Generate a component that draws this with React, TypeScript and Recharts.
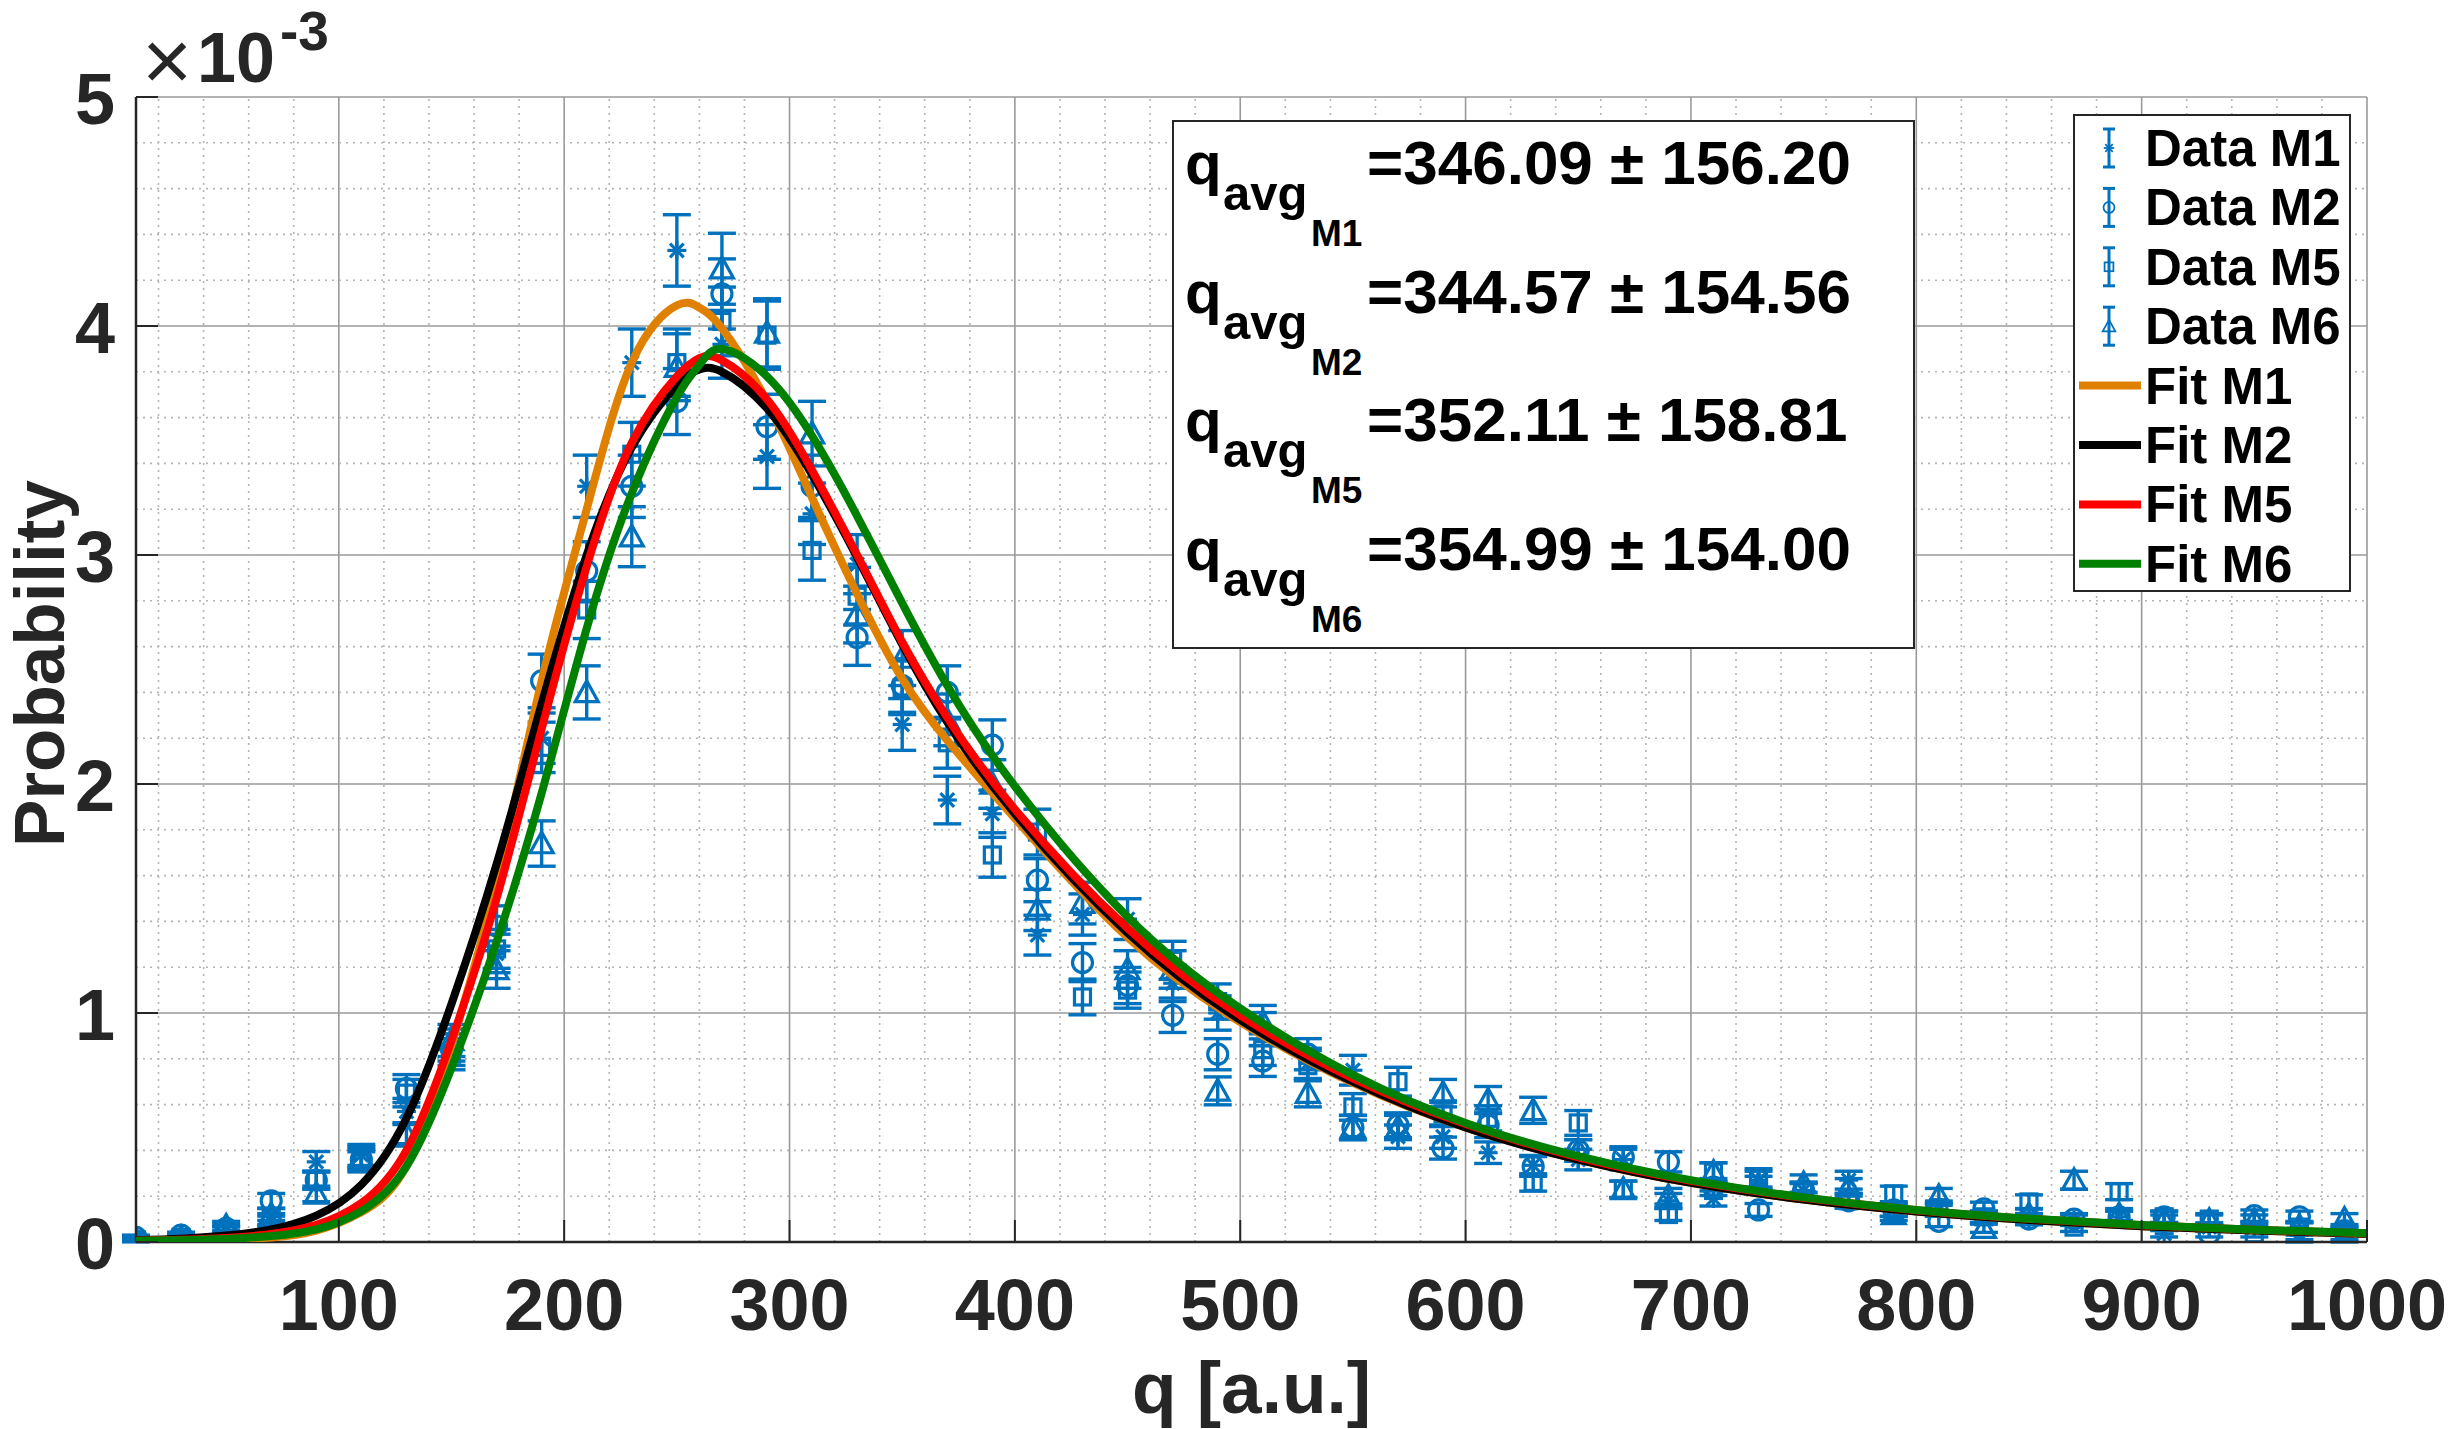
import React from 'react';
import {
  ComposedChart,
  XAxis,
  YAxis,
  CartesianGrid,
  Line,
  Scatter,
  ErrorBar,
  ReferenceLine,
  Legend,
} from 'recharts';

const CHART_W = 2450;
const CHART_H = 1429;
const FONT = '"Liberation Sans", Arial, Helvetica, sans-serif';
const INK = '#262626';
const BLUE = '#0072BD';
const ORANGE = '#E08000';
const BLACK = '#000000';
const RED = '#FF0000';
const GREEN = '#008000';

// ---------- data (probability in units of 1e-3) ----------
const qPoints = [10, 30, 50, 70, 90, 110, 130, 150, 170, 190, 210, 230, 250, 270, 290, 310, 330, 350, 370, 390, 410, 430, 450, 470, 490, 510, 530, 550, 570, 590, 610, 630, 650, 670, 690, 710, 730, 750, 770, 790, 810, 830, 850, 870, 890, 910, 930, 950, 970, 990];

const m1Values = [0.01, 0.02, 0.05, 0.09, 0.35, 0.38, 0.57, 0.86, 1.26, 2.2, 3.3, 3.84, 4.33, 3.92, 3.43, 3.18, 2.96, 2.26, 1.93, 1.87, 1.34, 1.43, 1.41, 1.13, 1.0, 0.93, 0.78, 0.75, 0.46, 0.46, 0.39, 0.335, 0.36, 0.36, 0.18, 0.19, 0.27, 0.225, 0.27, 0.14, 0.14, 0.11, 0.1, 0.095, 0.11, 0.036, 0.065, 0.065, 0.005, 0.005];
const m1Errors = [0.008, 0.01, 0.017, 0.023, 0.045, 0.046, 0.057, 0.07, 0.084, 0.11, 0.136, 0.147, 0.156, 0.148, 0.139, 0.134, 0.129, 0.113, 0.104, 0.103, 0.087, 0.09, 0.089, 0.08, 0.075, 0.072, 0.066, 0.065, 0.051, 0.051, 0.047, 0.043, 0.045, 0.045, 0.032, 0.033, 0.039, 0.036, 0.039, 0.028, 0.028, 0.025, 0.024, 0.023, 0.025, 0.014, 0.019, 0.019, 0.005, 0.005];

const m2Values = [0.02, 0.03, 0.06, 0.18, 0.27, 0.36, 0.67, 0.84, 1.38, 2.45, 2.93, 3.3, 3.67, 4.14, 3.56, 3.3, 2.64, 2.43, 2.4, 2.17, 1.58, 1.22, 1.12, 0.99, 0.82, 0.79, 0.82, 0.5, 0.51, 0.41, 0.51, 0.33, 0.4, 0.37, 0.35, 0.24, 0.14, 0.225, 0.18, 0.14, 0.09, 0.145, 0.1, 0.1, 0.11, 0.11, 0.036, 0.115, 0.11, 0.05];
const m2Errors = [0.01, 0.013, 0.018, 0.032, 0.039, 0.045, 0.061, 0.069, 0.088, 0.117, 0.128, 0.136, 0.144, 0.153, 0.142, 0.136, 0.122, 0.117, 0.116, 0.11, 0.094, 0.083, 0.079, 0.075, 0.068, 0.067, 0.068, 0.053, 0.054, 0.048, 0.054, 0.043, 0.047, 0.046, 0.044, 0.037, 0.028, 0.036, 0.032, 0.028, 0.023, 0.029, 0.024, 0.024, 0.025, 0.025, 0.014, 0.025, 0.025, 0.017];

const m5Values = [0.01, 0.02, 0.05, 0.1, 0.27, 0.35, 0.65, 0.82, 1.28, 2.16, 2.76, 3.44, 3.84, 4.02, 3.96, 3.02, 2.82, 2.42, 2.18, 1.69, 1.79, 1.07, 1.1, 1.23, 1.05, 0.84, 0.77, 0.59, 0.7, 0.56, 0.54, 0.26, 0.52, 0.23, 0.12, 0.305, 0.28, 0.22, 0.18, 0.21, 0.15, 0.11, 0.175, 0.065, 0.22, 0.11, 0.1, 0.036, 0.065, 0.045];
const m5Errors = [0.008, 0.01, 0.017, 0.024, 0.039, 0.044, 0.06, 0.068, 0.085, 0.11, 0.125, 0.139, 0.147, 0.15, 0.149, 0.13, 0.126, 0.117, 0.111, 0.097, 0.1, 0.078, 0.079, 0.083, 0.077, 0.069, 0.066, 0.058, 0.063, 0.056, 0.055, 0.038, 0.054, 0.036, 0.026, 0.041, 0.04, 0.035, 0.032, 0.034, 0.029, 0.025, 0.031, 0.019, 0.035, 0.025, 0.024, 0.014, 0.019, 0.016];

const m6Values = [0.01, 0.02, 0.07, 0.12, 0.21, 0.37, 0.47, 0.88, 1.19, 1.74, 2.4, 3.08, 3.82, 4.25, 3.97, 3.53, 2.74, 2.55, 2.28, 2.0, 1.45, 1.48, 1.19, 1.19, 0.66, 0.96, 0.65, 0.5, 0.5, 0.65, 0.62, 0.575, 0.4, 0.23, 0.2, 0.305, 0.25, 0.255, 0.24, 0.12, 0.2, 0.06, 0.12, 0.27, 0.12, 0.095, 0.095, 0.095, 0.07, 0.1];
const m6Errors = [0.008, 0.01, 0.02, 0.026, 0.034, 0.046, 0.051, 0.07, 0.082, 0.099, 0.116, 0.131, 0.146, 0.155, 0.149, 0.141, 0.124, 0.12, 0.113, 0.106, 0.09, 0.091, 0.082, 0.082, 0.061, 0.073, 0.06, 0.053, 0.053, 0.06, 0.059, 0.057, 0.047, 0.036, 0.034, 0.041, 0.037, 0.038, 0.037, 0.026, 0.034, 0.018, 0.026, 0.039, 0.026, 0.023, 0.023, 0.023, 0.02, 0.024];

const fitQ = [10, 30, 50, 70, 90, 110, 130, 150, 170, 190, 210, 230, 250, 260, 270, 290, 310, 330, 350, 370, 400, 450, 500, 550, 600, 650, 700, 750, 800, 850, 900, 950, 1000];
const fitM1Values = [0.004, 0.007, 0.011, 0.02, 0.05, 0.13, 0.33, 0.86, 1.58, 2.45, 3.2, 3.84, 4.09, 4.08, 3.99, 3.67, 3.25, 2.83, 2.46, 2.19, 1.85, 1.33, 0.96, 0.695, 0.5, 0.36, 0.258, 0.185, 0.133, 0.096, 0.069, 0.05, 0.036];
const fitM2Values = [0.008, 0.014, 0.028, 0.055, 0.115, 0.25, 0.54, 1.04, 1.65, 2.35, 3.0, 3.47, 3.74, 3.81, 3.8, 3.64, 3.35, 2.99, 2.61, 2.27, 1.87, 1.35, 0.97, 0.7, 0.5, 0.36, 0.258, 0.185, 0.133, 0.096, 0.069, 0.05, 0.036];
const fitM5Values = [0.006, 0.01, 0.018, 0.035, 0.075, 0.17, 0.4, 0.88, 1.5, 2.24, 2.95, 3.49, 3.78, 3.86, 3.85, 3.68, 3.37, 3.0, 2.62, 2.29, 1.89, 1.37, 0.99, 0.715, 0.515, 0.37, 0.267, 0.193, 0.139, 0.101, 0.073, 0.053, 0.038];
const fitM6Values = [0.005, 0.008, 0.013, 0.026, 0.055, 0.135, 0.33, 0.76, 1.31, 1.96, 2.68, 3.27, 3.69, 3.83, 3.9, 3.78, 3.52, 3.17, 2.79, 2.43, 1.99, 1.42, 1.02, 0.73, 0.52, 0.375, 0.27, 0.195, 0.14, 0.102, 0.074, 0.054, 0.039];

const xTicks = [100, 200, 300, 400, 500, 600, 700, 800, 900, 1000];
const yTicks = [0, 1, 2, 3, 4, 5];
const xMinorTicks = [20, 40, 60, 80, 120, 140, 160, 180, 220, 240, 260, 280, 320, 340, 360, 380, 420, 440, 460, 480, 520, 540, 560, 580, 620, 640, 660, 680, 720, 740, 760, 780, 820, 840, 860, 880, 920, 940, 960, 980];
const yMinorTicks = [0.2, 0.4, 0.6, 0.8, 1.2, 1.4, 1.6, 1.8, 2.2, 2.4, 2.6, 2.8, 3.2, 3.4, 3.6, 3.8, 4.2, 4.4, 4.6, 4.8];
const xDomain = [10, 1000];
const yDomain = [0, 5];

const annotationRows = [
  { sub: 'M1', text: '=346.09 ± 156.20' },
  { sub: 'M2', text: '=344.57 ± 154.56' },
  { sub: 'M5', text: '=352.11 ± 158.81' },
  { sub: 'M6', text: '=354.99 ± 154.00' },
];

// ---------- tables built from the arrays ----------
const buildPoints = (values: number[], errors: number[]) =>
  qPoints.map((q, i) => ({ q, v: values[i], e: errors[i] }));
const buildFit = (values: number[]) => fitQ.map((q, i) => ({ q, v: values[i] }));

const dataM1 = buildPoints(m1Values, m1Errors);
const dataM2 = buildPoints(m2Values, m2Errors);
const dataM5 = buildPoints(m5Values, m5Errors);
const dataM6 = buildPoints(m6Values, m6Errors);
const fitM1 = buildFit(fitM1Values);
const fitM2 = buildFit(fitM2Values);
const fitM5 = buildFit(fitM5Values);
const fitM6 = buildFit(fitM6Values);

type MarkerKind = 'star' | 'circle' | 'square' | 'triangle';

function MarkerGlyph({ kind, cx, cy, scale = 1 }: { kind: MarkerKind; cx: number; cy: number; scale?: number }) {
  if (cx == null || cy == null || isNaN(cx) || isNaN(cy)) return null;
  const sw = 3.2 * scale;
  if (kind === 'star') {
    const r = 9.5 * scale;
    const d = r * 0.72;
    return (
      <g stroke={BLUE} strokeWidth={sw} fill="none">
        <line x1={cx - r} y1={cy} x2={cx + r} y2={cy} />
        <line x1={cx} y1={cy - r} x2={cx} y2={cy + r} />
        <line x1={cx - d} y1={cy - d} x2={cx + d} y2={cy + d} />
        <line x1={cx - d} y1={cy + d} x2={cx + d} y2={cy - d} />
      </g>
    );
  }
  if (kind === 'circle') {
    return <circle cx={cx} cy={cy} r={10 * scale} fill="none" stroke={BLUE} strokeWidth={sw} />;
  }
  if (kind === 'square') {
    const h = 8 * scale;
    return <rect x={cx - h} y={cy - h} width={2 * h} height={2 * h} fill="none" stroke={BLUE} strokeWidth={sw} />;
  }
  const a = 11.5 * scale;
  const pts = `${cx},${cy - a} ${cx - a},${cy + a * 0.8} ${cx + a},${cy + a * 0.8}`;
  return <polygon points={pts} fill="none" stroke={BLUE} strokeWidth={sw} strokeLinejoin="miter" />;
}

const legendStyles: Record<string, { kind?: MarkerKind; color?: string }> = {
  'Data M1': { kind: 'star' },
  'Data M2': { kind: 'circle' },
  'Data M5': { kind: 'square' },
  'Data M6': { kind: 'triangle' },
  'Fit M1': { color: ORANGE },
  'Fit M2': { color: BLACK },
  'Fit M5': { color: RED },
  'Fit M6': { color: GREEN },
};
const legendOrder = ['Data M1', 'Data M2', 'Data M5', 'Data M6', 'Fit M1', 'Fit M2', 'Fit M5', 'Fit M6'];

const LEG_W = 278;
const LEG_H = 478;

function LegendBox(props: any) {
  const names: string[] = (props.payload ?? [])
    .map((p: any) => String(p.value))
    .filter((n: string) => legendStyles[n]);
  names.sort((a, b) => legendOrder.indexOf(a) - legendOrder.indexOf(b));
  return (
    <svg width={LEG_W} height={LEG_H + 24} style={{ display: 'block', overflow: 'visible' }}>
      <rect x={1} y={1} width={LEG_W - 2} height={LEG_H - 2} fill="#fff" stroke={INK} strokeWidth={2} />
      {names.map((name, i) => {
        const base = 52 + i * 59.4;
        const cy = base - 18;
        const st = legendStyles[name];
        return (
          <g key={name}>
            {st.kind ? (
              <g>
                <g stroke={BLUE} strokeWidth={3}>
                  <line x1={36} y1={cy - 19} x2={36} y2={cy + 19} />
                  <line x1={30} y1={cy - 19} x2={42} y2={cy - 19} />
                  <line x1={30} y1={cy + 19} x2={42} y2={cy + 19} />
                </g>
                <MarkerGlyph kind={st.kind} cx={36} cy={cy} scale={0.55} />
              </g>
            ) : (
              <line x1={6} y1={cy} x2={68} y2={cy} stroke={st.color} strokeWidth={8} />
            )}
            <text x={72} y={base} fontFamily={FONT} fontWeight="bold" fontSize={51} fill="#000">
              {name}
            </text>
          </g>
        );
      })}
    </svg>
  );
}

// ---------- axis ticks (MATLAB style: inward ticks) ----------
const TICK_FONT = 72;
const BottomTick = (p: any) => (
  <g>
    <line x1={p.x} y1={p.y} x2={p.x} y2={p.y - 22} stroke={INK} strokeWidth={2} />
    <text x={p.x} y={p.y + 88} textAnchor="middle" fontFamily={FONT} fontWeight="bold" fontSize={TICK_FONT} fill={INK}>
      {p.payload.value}
    </text>
  </g>
);
const LeftTick = (p: any) => (
  <g>
    <line x1={p.x} y1={p.y} x2={p.x + 22} y2={p.y} stroke={INK} strokeWidth={2} />
    <text x={p.x - 21} y={p.y + 27} textAnchor="end" fontFamily={FONT} fontWeight="bold" fontSize={TICK_FONT} fill={INK}>
      {p.payload.value}
    </text>
  </g>
);
const TopTick = (p: any) => (
  <line x1={p.x} y1={p.y} x2={p.x} y2={p.y + 22} stroke={INK} strokeWidth={2} />
);
const RightTick = (p: any) => (
  <line x1={p.x} y1={p.y} x2={p.x - 22} y2={p.y} stroke={INK} strokeWidth={2} />
);

const XTitle = (p: any) => {
  const vb = p.viewBox ?? { x: 136, y: 1242, width: 2231, height: 120 };
  return (
    <text x={vb.x + vb.width / 2} y={vb.y + 171} textAnchor="middle" fontFamily={FONT} fontWeight="bold" fontSize={73} fill={INK}>
      q [a.u.]
    </text>
  );
};
const YTitle = (p: any) => {
  const vb = p.viewBox ?? { x: 36, y: 97, width: 100, height: 1145 };
  const cx = 64;
  const cy = vb.y + vb.height / 2 - 6;
  return (
    <text x={cx} y={cy} transform={`rotate(-90 ${cx} ${cy})`} textAnchor="middle" fontFamily={FONT} fontWeight="bold" fontSize={71} fill={INK}>
      Probability
    </text>
  );
};

const scatterShape = (kind: MarkerKind) => (p: any) => <MarkerGlyph kind={kind} cx={p.cx} cy={p.cy} />;

export default function App() {
  const series: { name: string; data: any[]; kind: MarkerKind }[] = [
    { name: 'Data M1', data: dataM1, kind: 'star' },
    { name: 'Data M2', data: dataM2, kind: 'circle' },
    { name: 'Data M5', data: dataM5, kind: 'square' },
    { name: 'Data M6', data: dataM6, kind: 'triangle' },
  ];
  const fits = [
    { name: 'Fit M1', data: fitM1, color: ORANGE },
    { name: 'Fit M2', data: fitM2, color: BLACK },
    { name: 'Fit M5', data: fitM5, color: RED },
    { name: 'Fit M6', data: fitM6, color: GREEN },
  ];

  return (
    <div style={{ position: 'absolute', left: 0, top: 0, width: CHART_W, height: CHART_H, background: '#fff', overflow: 'hidden' }}>
      <ComposedChart width={CHART_W} height={CHART_H} margin={{ top: 97, right: 83, bottom: 67, left: 36 }}>
        <CartesianGrid stroke="#9a9a9a" strokeWidth={1.6} />
        {xMinorTicks.map((v) => (
          <ReferenceLine key={`xm${v}`} x={v} stroke="#b4b4b4" strokeWidth={1.6} strokeDasharray="2 5" zIndex={-50} />
        ))}
        {yMinorTicks.map((v) => (
          <ReferenceLine key={`ym${v}`} y={v} stroke="#b4b4b4" strokeWidth={1.6} strokeDasharray="2 5" zIndex={-50} />
        ))}

        {series.map((s) => (
          <Scatter
            key={s.name}
            name={s.name}
            data={s.data}
            fill={BLUE}
            shape={scatterShape(s.kind)}
            isAnimationActive={false}
            zIndex={300}
          >
            <ErrorBar dataKey="e" direction="y" width={14} strokeWidth={3.4} stroke={BLUE} isAnimationActive={false} />
          </Scatter>
        ))}

        {fits.map((f) => (
          <Line
            key={f.name}
            name={f.name}
            data={f.data}
            dataKey="v"
            type="natural"
            stroke={f.color}
            strokeWidth={8}
            dot={false}
            activeDot={false}
            isAnimationActive={false}
            zIndex={700}
          />
        ))}
        <Line
          xAxisId="top"
          yAxisId="right"
          data={fitM1}
          dataKey="v"
          stroke="none"
          dot={false}
          activeDot={false}
          legendType="none"
          isAnimationActive={false}
        />

        <XAxis
          dataKey="q"
          type="number"
          domain={xDomain}
          ticks={xTicks}
          allowDataOverflow
          height={120}
          tickSize={0}
          tickMargin={0}
          tick={BottomTick}
          axisLine={{ stroke: INK, strokeWidth: 2.5 }}
          tickLine={false}
          interval={0}
          label={{ value: 'q [a.u.]', content: XTitle }}
        />
        <YAxis
          dataKey="v"
          type="number"
          domain={yDomain}
          ticks={yTicks}
          allowDataOverflow
          width={100}
          tickSize={0}
          tickMargin={0}
          tick={LeftTick}
          axisLine={{ stroke: INK, strokeWidth: 2.5 }}
          tickLine={false}
          interval={0}
          label={{ value: 'Probability', content: YTitle }}
        />
        <XAxis
          xAxisId="top"
          orientation="top"
          dataKey="q"
          type="number"
          domain={xDomain}
          ticks={xTicks}
          allowDataOverflow
          height={0}
          tickSize={0}
          tickMargin={0}
          tick={TopTick}
          axisLine={{ stroke: INK, strokeWidth: 2 }}
          tickLine={false}
          interval={0}
        />
        <YAxis
          yAxisId="right"
          orientation="right"
          dataKey="v"
          type="number"
          domain={yDomain}
          ticks={yTicks}
          allowDataOverflow
          width={0}
          tickSize={0}
          tickMargin={0}
          tick={RightTick}
          axisLine={{ stroke: INK, strokeWidth: 2 }}
          tickLine={false}
          interval={0}
        />

        <Legend
          layout="vertical"
          align="center"
          verticalAlign="middle"
          content={LegendBox}
          wrapperStyle={{ left: 2073, top: 114, width: LEG_W, height: LEG_H + 24 }}
        />
      </ComposedChart>

      <svg
        width={CHART_W}
        height={CHART_H}
        style={{ position: 'absolute', left: 0, top: 0, pointerEvents: 'none' }}
      >
        {/* axis exponent */}
        <text x={142} y={90} fontFamily={FONT} fontSize={86} fill={INK}>
          ×
        </text>
        <text x={197} y={82} fontFamily={FONT} fontWeight="bold" fontSize={70} fill={INK}>
          10
        </text>
        <text x={280} y={50} fontFamily={FONT} fontWeight="bold" fontSize={55} fill={INK}>
          -3
        </text>

        {/* annotation box */}
        <rect x={1173} y={121} width={741} height={527} fill="#fff" stroke={INK} strokeWidth={2} />
        {annotationRows.map((row, i) => {
          const b = 184 + i * 128.7;
          return (
            <g key={row.sub} fontFamily={FONT} fontWeight="bold" fill="#000">
              <text x={1185} y={b} fontSize={60}>q</text>
              <text x={1223} y={b + 26} fontSize={49}>avg</text>
              <text x={1311} y={b + 62} fontSize={37}>{row.sub}</text>
              <text x={1367} y={b} fontSize={62}>{row.text}</text>
            </g>
          );
        })}
      </svg>
    </div>
  );
}
